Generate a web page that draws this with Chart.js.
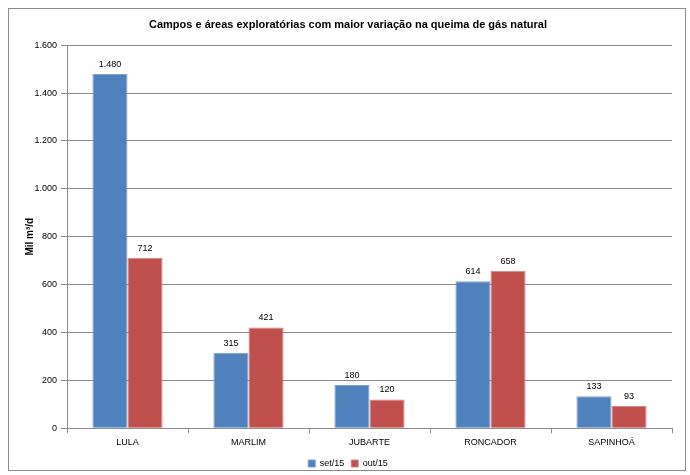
<!DOCTYPE html>
<html>
<head>
<meta charset="utf-8">
<script src="https://cdn.jsdelivr.net/npm/chart.js@4"></script>
<style>
  body { margin: 0; background: #fff; }
  #wrap { position: relative; width: 690px; height: 475px; }
</style>
</head>
<body>
<div id="wrap"><canvas id="chart" width="690" height="475"></canvas></div>
<script>
const campos = ["LULA", "MARLIM", "JUBARTE", "RONCADOR", "SAPINHOÁ"];
const setembro = [1480, 315, 180, 614, 133];
const outubro = [712, 421, 120, 658, 93];
const yTicks = [0, 200, 400, 600, 800, 1000, 1200, 1400, 1600];

const FONT = "'Liberation Sans', Arial, sans-serif";

function fmt(n) {
  return String(n).replace(/\B(?=(\d{3})+(?!\d))/g, ".");
}

// moldura cinza em volta do gráfico
const moldura = {
  id: "moldura",
  beforeDraw(chart) {
    const ctx = chart.ctx;
    ctx.save();
    ctx.fillStyle = "#fff";
    ctx.fillRect(0, 0, chart.width, chart.height);
    ctx.strokeStyle = "#8c8c8c";
    ctx.lineWidth = 1;
    ctx.strokeRect(8.5, 8.5, 677, 462);
    ctx.restore();
  }
};

// rótulos de valor em cima das barras
const rotulos = {
  id: "rotulos",
  afterDatasetsDraw(chart) {
    const ctx = chart.ctx;
    ctx.save();
    ctx.font = "9px " + FONT;
    ctx.fillStyle = "#000";
    ctx.textAlign = "center";
    ctx.textBaseline = "bottom";
    chart.data.datasets.forEach((ds, i) => {
      chart.getDatasetMeta(i).data.forEach((bar, j) => {
        ctx.fillText(fmt(ds.data[j]), bar.x, bar.y - 5);
      });
    });
    ctx.restore();
  }
};

new Chart(document.getElementById("chart"), {
  type: "bar",
  data: {
    labels: campos,
    datasets: [
      {
        label: "set/15",
        data: setembro,
        backgroundColor: "#4F81BD",
        borderColor: "#7FA3D0",
        borderWidth: 1
      },
      {
        label: "out/15",
        data: outubro,
        backgroundColor: "#C0504D",
        borderColor: "#D68583",
        borderWidth: 1
      }
    ]
  },
  options: {
    responsive: false,
    animation: false,
    devicePixelRatio: 1,
    layout: { padding: { left: 24, right: 18, top: 10, bottom: -3 } },
    datasets: { bar: { categoryPercentage: 0.58, barPercentage: 1.0 } },
    plugins: {
      title: {
        display: true,
        text: "Campos e áreas exploratórias com maior variação na queima de gás natural",
        color: "#000",
        font: { family: FONT, size: 11, weight: "bold" },
        padding: { top: 8, bottom: 14 }
      },
      legend: {
        position: "bottom",
        labels: {
          color: "#000",
          font: { family: FONT, size: 9 },
          boxWidth: 7,
          boxHeight: 7,
          padding: 7
        }
      },
      tooltip: { enabled: false }
    },
    scales: {
      x: {
        grid: {
          offset: true,
          drawOnChartArea: false,
          color: "#8c8c8c",
          tickLength: 5
        },
        border: { color: "#8c8c8c" },
        ticks: { color: "#000", font: { family: FONT, size: 9 }, padding: 4 }
      },
      y: {
        min: 0,
        max: 1600,
        afterBuildTicks(scale) {
          scale.ticks = yTicks.map(v => ({ value: v }));
        },
        afterFit(scale) {
          scale.width = 43;
        },
        grid: { color: "#8c8c8c", tickLength: 6 },
        border: { color: "#8c8c8c" },
        ticks: {
          color: "#000",
          font: { family: FONT, size: 9 },
          padding: 4,
          callback: v => fmt(v)
        },
        title: {
          display: true,
          text: "Mil m³/d",
          color: "#000",
          font: { family: FONT, size: 10, weight: "bold" },
          padding: { top: 0, bottom: 2 }
        }
      }
    }
  },
  plugins: [moldura, rotulos]
});
</script>
</body>
</html>
